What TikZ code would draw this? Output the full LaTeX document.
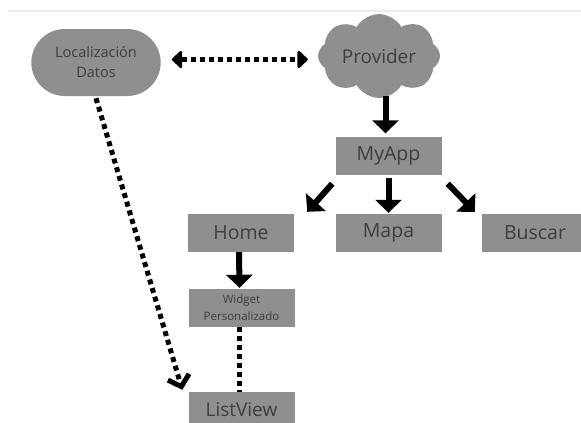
\documentclass[tikz,border=0pt]{standalone}
\usepackage{fontspec}
\setmainfont{Open Sans}
\usetikzlibrary{arrows.meta,shapes.symbols,shapes.misc}
\definecolor{boxgray}{RGB}{143,143,143}
\definecolor{txtgray}{RGB}{62,62,62}
\definecolor{rulegray}{RGB}{236,236,236}
\tikzset{
  x=1pt,y=-1pt,
  box/.style={fill=boxgray,text=txtgray,minimum width=106,minimum height=38,inner sep=0pt,font=\fontsize{19.5}{20}\selectfont},
  smallbox/.style={box,font=\fontsize{11.5}{17}\selectfont,align=center},
  solidarrow/.style={line width=6pt,-{Triangle[length=13pt,width=26pt]}},
  dotline/.style={line width=5pt,dash pattern=on 5pt off 4pt},
}
\begin{document}
\begin{tikzpicture}
\useasboundingbox (0,0) rectangle (581,423);
\clip (0,0) rectangle (581,423);
\draw[rulegray,line width=1.2pt] (8,11) -- (581,11);

\node[rounded rectangle,fill=boxgray,text=txtgray,minimum width=136,minimum height=67,align=center,font=\fontsize{14.5}{20}\selectfont] (loc) at (96,62.5) {Localización\\Datos};
\node[cloud,cloud puffs=8,cloud puff arc=120,aspect=1.6,fill=boxgray,text=txtgray,minimum width=122,minimum height=78,inner sep=0pt,font=\fontsize{19}{20}\selectfont] (prov) at (379,56) {Provider};

\node[box] (myapp) at (388.5,155.5) {MyApp};
\node[box] (home) at (241,233) {Home};
\node[box] (mapa) at (388.5,233) {Mapa};
\node[box] (buscar) at (535,233) {Buscar};
\node[smallbox] (widget) at (241.5,308) {Widget\\Personalizado};
\node[box,minimum height=40] (list) at (241.5,412) {};
\node[text=txtgray,font=\fontsize{19}{20}\selectfont] at (241.5,410) {ListView};

% double-headed dotted link
\coordinate (d1) at ([xshift=11,yshift=3]loc.east);
\coordinate (d2) at ([xshift=-10]prov.west);
\draw[dotline,{Triangle[length=11pt,width=20pt,round]}-{Triangle[length=11pt,width=20pt,round]}] (d1) -- (d2 |- d1);

% solid arrows
\draw[solidarrow] (myapp.north |- prov.south) ++(-3,-2) -- ([xshift=-3,yshift=3]myapp.north);
\coordinate (h1) at ([xshift=-3,yshift=-9]myapp.south west);
\coordinate (h2) at ([xshift=13,yshift=2]home.north east);
\draw[solidarrow] (h1) -- (h2);
\draw[solidarrow] ([yshift=-3]myapp.south) -- ([yshift=1]mapa.north);
\coordinate (b1) at ([xshift=6,yshift=-9]myapp.south east);
\coordinate (b2) at ([xshift=-7,yshift=2]buscar.north west);
\draw[solidarrow] (b1) -- (b2);
\draw[solidarrow] ([xshift=-2]home.south) -- ([xshift=-2,yshift=1]widget.north);

% dotted links
\draw[dotline] ([xshift=-2]widget.south) -- ([xshift=-2]list.north);
\coordinate (l1) at ([yshift=-2]loc.south);
\coordinate (l2) at ([xshift=-6,yshift=2]list.north west);
\draw[dotline,-{Straight Barb[length=10pt,width=22pt]}] (l1) -- (l2);
\end{tikzpicture}
\end{document}
